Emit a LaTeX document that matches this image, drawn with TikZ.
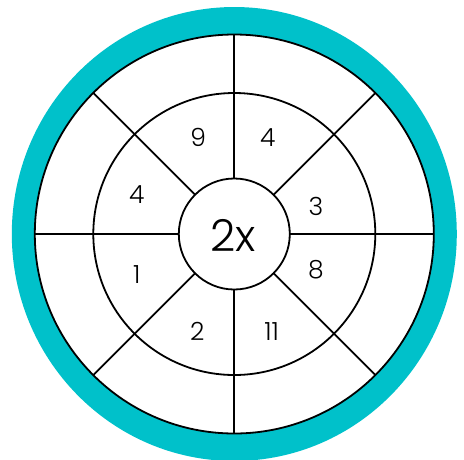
\documentclass[tikz,border=0pt]{standalone}
\usepackage{fontspec}
\setmainfont{Poppins Light}
\usetikzlibrary{calc}
\definecolor{ringteal}{RGB}{0,193,202}
\begin{document}
\begin{tikzpicture}[x=1pt,y=-1pt,line width=1.8pt,
  ringline/.style={circle,draw=black,outer sep=0pt,inner sep=0pt},
  lbl/.style={font=\fontsize{25}{25}\selectfont,inner sep=0pt},
  biglbl/.style={font=\fontsize{44}{44}\selectfont,inner sep=0pt}]
\useasboundingbox (0,0) rectangle (464,459);
\coordinate (c) at (234.3,234);
\fill[ringteal] (c) ellipse [x radius=222.5, y radius=227];
\node[ringline,fill=white,minimum size=399pt] (outer) at (c) {};
\node[ringline,minimum size=282pt] (mid) at (c) {};
\node[ringline,fill=white,minimum size=111pt] (hub) at (c) {};
\foreach \a in {0,45,...,315} \draw (hub.\a) -- (outer.\a);
\node[biglbl] (t2x) at (233.3,235) {2x};
\node[lbl] (n9) at (198.3,137.3) {9};
\node[lbl] (n4a) at (267.7,137.3) {4};
\node[lbl] (n4b) at (136.7,195) {4};
\node[lbl] (n3) at (316,206.7) {3};
\node[lbl] (n1) at (136.7,274.3) {1};
\node[lbl] (n8) at (316,269.3) {8};
\node[lbl] (n2) at (197.3,331.7) {2};
\node[lbl] (n11) at (271.7,331.7) {11};
\end{tikzpicture}
\end{document}
